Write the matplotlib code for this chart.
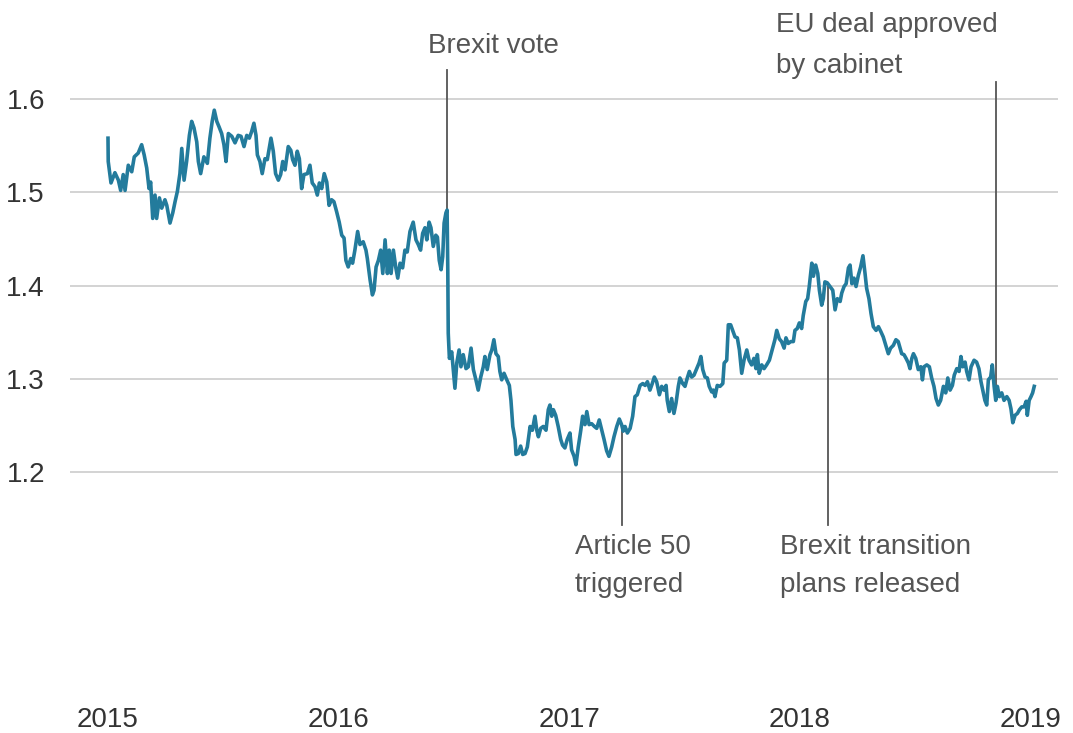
# GBP/USD exchange rate, 2015 to early 2019, with Brexit milestones
import numpy as np
import matplotlib
matplotlib.use('Agg')
import matplotlib.pyplot as plt

# time in decimal years
t = [2015.000, 2015.001, 2015.013, 2015.030, 2015.045, 2015.055, 2015.066, 2015.074, 2015.088, 2015.103,
     2015.114, 2015.131, 2015.146, 2015.157, 2015.168, 2015.178, 2015.185, 2015.194, 2015.204, 2015.211,
     2015.223, 2015.233, 2015.247, 2015.255, 2015.269, 2015.281, 2015.291, 2015.301, 2015.312, 2015.320,
     2015.330, 2015.341, 2015.353, 2015.363, 2015.373, 2015.385, 2015.392, 2015.402, 2015.416, 2015.431,
     2015.442, 2015.452, 2015.461, 2015.472, 2015.482, 2015.493, 2015.503, 2015.512, 2015.522, 2015.537,
     2015.551, 2015.565, 2015.577, 2015.590, 2015.602, 2015.613, 2015.623, 2015.633, 2015.642, 2015.648,
     2015.659, 2015.669, 2015.681, 2015.691, 2015.707, 2015.717, 2015.727, 2015.739, 2015.749, 2015.758,
     2015.768, 2015.782, 2015.793, 2015.801, 2015.811, 2015.821, 2015.830, 2015.840, 2015.850, 2015.865,
     2015.876, 2015.886, 2015.898, 2015.908, 2015.917, 2015.927, 2015.938, 2015.949, 2015.959, 2015.970,
     2015.980, 2015.992, 2016.003, 2016.014, 2016.024, 2016.032, 2016.042, 2016.053, 2016.061, 2016.071,
     2016.083, 2016.093, 2016.107, 2016.119, 2016.125, 2016.137, 2016.147, 2016.154, 2016.163, 2016.173,
     2016.183, 2016.192, 2016.202, 2016.212, 2016.220, 2016.228, 2016.238, 2016.248, 2016.257, 2016.267,
     2016.278, 2016.288, 2016.298, 2016.310, 2016.324, 2016.336, 2016.346, 2016.356, 2016.365, 2016.375,
     2016.383, 2016.393, 2016.401, 2016.411, 2016.422, 2016.429, 2016.437, 2016.445, 2016.452, 2016.458,
     2016.466, 2016.471, 2016.474, 2016.476, 2016.481, 2016.491, 2016.498, 2016.505, 2016.513, 2016.523,
     2016.531, 2016.541, 2016.553, 2016.563, 2016.575, 2016.585, 2016.596, 2016.606, 2016.617, 2016.628,
     2016.635, 2016.645, 2016.657, 2016.665, 2016.674, 2016.683, 2016.693, 2016.700, 2016.708, 2016.718,
     2016.730, 2016.741, 2016.748, 2016.756, 2016.766, 2016.770, 2016.780, 2016.790, 2016.799, 2016.809,
     2016.819, 2016.831, 2016.841, 2016.852, 2016.860, 2016.867, 2016.877, 2016.888, 2016.900, 2016.910,
     2016.917, 2016.925, 2016.932, 2016.942, 2016.953, 2016.964, 2016.972, 2016.982, 2016.992, 2017.004,
     2017.011, 2017.022, 2017.030, 2017.040, 2017.051, 2017.059, 2017.069, 2017.077, 2017.087, 2017.098,
     2017.110, 2017.120, 2017.131, 2017.142, 2017.152, 2017.163, 2017.173, 2017.185, 2017.195, 2017.207,
     2017.218, 2017.228, 2017.235, 2017.243, 2017.253, 2017.265, 2017.276, 2017.286, 2017.296, 2017.308,
     2017.320, 2017.330, 2017.340, 2017.351, 2017.361, 2017.370, 2017.380, 2017.392, 2017.402, 2017.412,
     2017.421, 2017.426, 2017.435, 2017.445, 2017.455, 2017.464, 2017.474, 2017.481, 2017.493, 2017.503,
     2017.513, 2017.522, 2017.532, 2017.542, 2017.554, 2017.564, 2017.572, 2017.580, 2017.590, 2017.600,
     2017.608, 2017.619, 2017.626, 2017.633, 2017.643, 2017.655, 2017.667, 2017.673, 2017.684, 2017.691,
     2017.701, 2017.710, 2017.720, 2017.730, 2017.739, 2017.749, 2017.759, 2017.771, 2017.781, 2017.792,
     2017.802, 2017.811, 2017.817, 2017.825, 2017.836, 2017.846, 2017.857, 2017.869, 2017.883, 2017.893,
     2017.901, 2017.912, 2017.922, 2017.933, 2017.941, 2017.951, 2017.962, 2017.973, 2017.980, 2017.990,
     2017.999, 2018.009, 2018.016, 2018.027, 2018.035, 2018.042, 2018.053, 2018.060, 2018.070, 2018.079,
     2018.086, 2018.096, 2018.103, 2018.110, 2018.120, 2018.132, 2018.144, 2018.154, 2018.164, 2018.176,
     2018.183, 2018.193, 2018.202, 2018.212, 2018.219, 2018.227, 2018.236, 2018.245, 2018.255, 2018.265,
     2018.275, 2018.284, 2018.291, 2018.301, 2018.310, 2018.320, 2018.332, 2018.342, 2018.352, 2018.363,
     2018.375, 2018.385, 2018.395, 2018.407, 2018.418, 2018.428, 2018.443, 2018.453, 2018.462, 2018.472,
     2018.479, 2018.487, 2018.494, 2018.504, 2018.515, 2018.526, 2018.533, 2018.540, 2018.552, 2018.563,
     2018.573, 2018.583, 2018.592, 2018.602, 2018.612, 2018.624, 2018.634, 2018.643, 2018.653, 2018.663,
     2018.671, 2018.682, 2018.692, 2018.700, 2018.708, 2018.718, 2018.725, 2018.735, 2018.744, 2018.757,
     2018.768, 2018.778, 2018.787, 2018.797, 2018.804, 2018.812, 2018.819, 2018.829, 2018.836, 2018.844,
     2018.851, 2018.858, 2018.867, 2018.877, 2018.887, 2018.899, 2018.909, 2018.917, 2018.925, 2018.935,
     2018.945, 2018.954, 2018.964, 2018.974, 2018.983, 2018.988, 2018.996, 2019.004, 2019.011, 2019.018]

# dollars per pound
rate = [1.558, 1.533, 1.510, 1.521, 1.513, 1.502, 1.519, 1.502, 1.529, 1.522,
        1.538, 1.542, 1.551, 1.540, 1.526, 1.504, 1.511, 1.472, 1.497, 1.472,
        1.494, 1.483, 1.492, 1.486, 1.467, 1.478, 1.490, 1.501, 1.520, 1.547,
        1.513, 1.533, 1.561, 1.576, 1.569, 1.554, 1.533, 1.520, 1.538, 1.531,
        1.558, 1.576, 1.588, 1.576, 1.570, 1.563, 1.551, 1.533, 1.563, 1.560,
        1.553, 1.561, 1.560, 1.549, 1.561, 1.558, 1.565, 1.574, 1.561, 1.540,
        1.533, 1.520, 1.536, 1.535, 1.558, 1.544, 1.520, 1.513, 1.519, 1.533,
        1.524, 1.549, 1.545, 1.535, 1.529, 1.544, 1.536, 1.504, 1.519, 1.520,
        1.529, 1.510, 1.506, 1.497, 1.510, 1.504, 1.520, 1.511, 1.486, 1.492,
        1.490, 1.479, 1.468, 1.454, 1.451, 1.427, 1.420, 1.429, 1.424, 1.438,
        1.458, 1.444, 1.447, 1.438, 1.429, 1.406, 1.390, 1.395, 1.420, 1.427,
        1.438, 1.413, 1.449, 1.413, 1.438, 1.413, 1.438, 1.420, 1.408, 1.424,
        1.419, 1.438, 1.436, 1.458, 1.468, 1.449, 1.444, 1.438, 1.456, 1.462,
        1.449, 1.468, 1.462, 1.442, 1.454, 1.452, 1.427, 1.417, 1.431, 1.467,
        1.478, 1.481, 1.417, 1.349, 1.322, 1.329, 1.310, 1.290, 1.317, 1.331,
        1.313, 1.326, 1.311, 1.313, 1.333, 1.310, 1.299, 1.288, 1.302, 1.313,
        1.324, 1.310, 1.326, 1.331, 1.342, 1.327, 1.324, 1.308, 1.299, 1.306,
        1.299, 1.293, 1.277, 1.249, 1.235, 1.219, 1.220, 1.228, 1.219, 1.220,
        1.227, 1.249, 1.245, 1.260, 1.245, 1.238, 1.247, 1.249, 1.245, 1.267,
        1.272, 1.260, 1.267, 1.261, 1.249, 1.235, 1.229, 1.226, 1.235, 1.242,
        1.224, 1.217, 1.208, 1.227, 1.245, 1.260, 1.251, 1.265, 1.251, 1.252,
        1.249, 1.247, 1.256, 1.245, 1.235, 1.223, 1.217, 1.227, 1.238, 1.249,
        1.257, 1.251, 1.244, 1.249, 1.242, 1.247, 1.260, 1.281, 1.283, 1.293,
        1.295, 1.293, 1.297, 1.288, 1.295, 1.302, 1.297, 1.283, 1.292, 1.288,
        1.293, 1.277, 1.265, 1.279, 1.263, 1.274, 1.292, 1.301, 1.295, 1.292,
        1.301, 1.308, 1.302, 1.304, 1.311, 1.317, 1.324, 1.310, 1.302, 1.301,
        1.292, 1.286, 1.288, 1.281, 1.293, 1.292, 1.295, 1.317, 1.320, 1.358,
        1.358, 1.352, 1.345, 1.344, 1.331, 1.306, 1.320, 1.331, 1.320, 1.315,
        1.322, 1.311, 1.326, 1.306, 1.315, 1.311, 1.315, 1.320, 1.333, 1.342,
        1.352, 1.343, 1.340, 1.333, 1.344, 1.338, 1.340, 1.340, 1.352, 1.354,
        1.360, 1.354, 1.368, 1.383, 1.386, 1.399, 1.424, 1.410, 1.422, 1.413,
        1.395, 1.379, 1.386, 1.404, 1.403, 1.399, 1.395, 1.374, 1.386, 1.383,
        1.392, 1.399, 1.402, 1.419, 1.422, 1.402, 1.408, 1.399, 1.411, 1.420,
        1.432, 1.413, 1.397, 1.386, 1.370, 1.356, 1.352, 1.356, 1.351, 1.345,
        1.335, 1.327, 1.333, 1.336, 1.342, 1.340, 1.327, 1.326, 1.322, 1.317,
        1.311, 1.322, 1.327, 1.322, 1.310, 1.313, 1.299, 1.313, 1.315, 1.313,
        1.301, 1.292, 1.279, 1.272, 1.277, 1.292, 1.285, 1.301, 1.288, 1.293,
        1.304, 1.311, 1.308, 1.324, 1.313, 1.318, 1.308, 1.299, 1.313, 1.320,
        1.318, 1.311, 1.297, 1.285, 1.277, 1.272, 1.299, 1.302, 1.315, 1.292,
        1.277, 1.292, 1.281, 1.285, 1.277, 1.281, 1.277, 1.268, 1.253, 1.261,
        1.263, 1.267, 1.270, 1.270, 1.276, 1.261, 1.277, 1.281, 1.285, 1.292]

years = [2015, 2016, 2017, 2018, 2019]
y_ticks = [1.2, 1.3, 1.4, 1.5, 1.6]

# milestones: label, date, where the label sits (above/below the line)
events = ['Brexit vote', 'Article 50\ntriggered', 'Brexit transition\nplans released',
          'EU deal approved\nby cabinet']
event_t = [2016.471, 2017.230, 2018.123, 2018.852]
event_above = [True, False, False, True]

plt.rcParams['font.family'] = ['Liberation Sans', 'DejaVu Sans']

fig = plt.figure(figsize=(10.73, 7.33), dpi=100)
ax = fig.add_axes([0.0652, 0.0587, 0.9208, 0.9277])

ax.plot(t, rate, color='#237b9c', linewidth=2.6, solid_joinstyle='round', zorder=3)

ax.set_xlim(2014.835, 2019.121)
ax.set_ylim(0.9666, 1.6954)
ax.set_yticks(y_ticks)
ax.set_yticklabels(['%.1f' % v for v in y_ticks])
ax.set_xticks(years)
ax.set_xticklabels([str(y) for y in years])
ax.yaxis.grid(True, color='#cccccc', linewidth=1.2)
ax.set_axisbelow(True)
for s in ax.spines.values():
    s.set_visible(False)
ax.tick_params(axis='both', length=0, labelsize=20, colors='#333333')
ax.tick_params(axis='y', pad=18)
ax.tick_params(axis='x', pad=12)

text_x = [2016.388, 2017.026, 2017.915, 2017.898]
line_top = [1.631, None, None, 1.618]
for label, et, above, tx, top in zip(events, event_t, event_above, text_x, line_top):
    yv = np.interp(et, t, rate)
    if above:
        ax.plot([et, et], [yv, top], color='#555555', linewidth=1.3, zorder=2)
        ax.text(tx, 1.657, label, ha='left', va='center', fontsize=20,
                color='#555555', linespacing=1.75)
    else:
        ax.plot([et, et], [1.1434, yv], color='#555555', linewidth=1.3, zorder=2)
        ax.text(tx, 1.0995, label, ha='left', va='center', fontsize=20,
                color='#555555', linespacing=1.6)

fig.savefig('out.png', dpi=100)
